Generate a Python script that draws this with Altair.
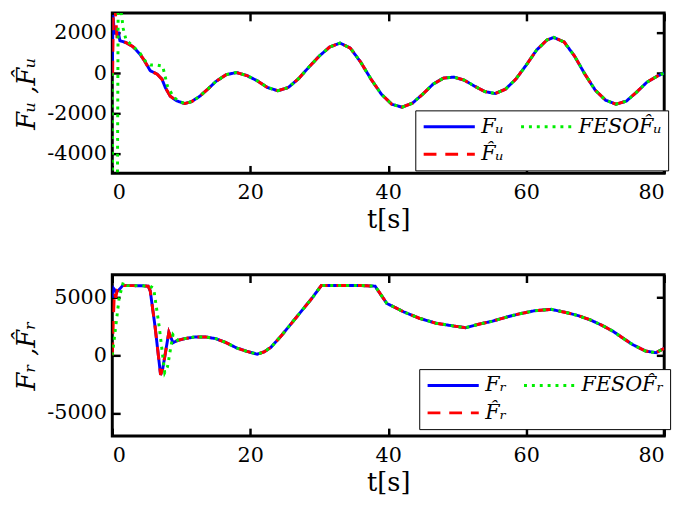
import altair as alt
import pandas as pd

# ---------------- data ----------------
# top panel: F_u
u_names = ["Fᵤ", "F̂ᵤ", "FESOF̂ᵤ"]          # legend order (2 columns, column-major)
u_tail_t = [10.5, 11.5, 12.7, 14, 15, 16.5, 18, 19.5, 21, 22.5, 24, 25.5, 27, 28.5, 30, 31.5,
            33, 34.5, 36, 37.5, 39, 40.5, 42, 43.5, 45, 46.5, 48, 49.5, 51, 52.5, 54, 55.5,
            57, 58.5, 60, 61.5, 63, 64, 65.5, 67, 68.5, 70, 71.5, 73, 74.5, 76, 77.5, 79, 80]
u_tail_v = [-1520, -1420, -1150, -750, -420, -80, 30, -120, -380, -720, -880, -720, -280, 300, 850, 1300,
            1500, 1250, 550, -300, -1050, -1550, -1700, -1500, -1050, -550, -250, -200, -350, -650, -920, -1020,
            -800, -300, 400, 1150, 1650, 1780, 1550, 850, -50, -850, -1350, -1550, -1400, -950, -450, -150, 0]
fu_head_t = [0, 0.1, 0.3, 0.6, 0.9, 1.1, 2, 3, 4, 4.6, 5.5, 6.5, 7.2, 7.7, 8.4, 9.3]
fu_head_v = [0, 2900, 2000, 2000, 2000, 1620, 1520, 1320, 950, 650, 120, -50, -300, -730, -1150, -1380]
fuhat_head_t = [0, 0.05, 0.15, 0.4, 0.7, 1.1, 2, 3, 4, 4.6, 5.5, 6.5, 7.2, 7.7, 8.4, 9.3]
fuhat_head_v = [0, 0, 3300, 3300, 1700, 1620, 1520, 1320, 950, 650, 120, -50, -300, -730, -1150, -1380]
fueso_head_t = [0, 0.05, 0.75, 0.85, 1.2, 1.6, 2.0, 3, 4, 4.8, 5.5, 6.5, 7.3, 8.0, 8.8, 9.5]
fueso_head_v = [0, -5300, -5300, 3300, 3300, 2200, 1650, 1350, 1000, 600, 400, 400, 350, -650, -1150, -1380]

# bottom panel: F_r
r_names = ["Fᵣ", "F̂ᵣ", "FESOF̂ᵣ"]
r_tail_t = [10.5, 12, 13.5, 15, 16.5, 18, 19.5, 21, 22, 23, 24.5, 26, 27.5, 29, 30.3, 32, 34, 36, 38.1,
            39, 39.8, 41, 42.2, 44.5, 46.9, 49.3, 51.2, 53.1, 55, 57.4, 59, 61.2, 63.6, 65.9, 67.5,
            69.3, 71, 72.6, 74, 75.4, 77.3, 78.8, 79.7, 80]
r_tail_v = [1450, 1600, 1600, 1450, 1100, 650, 350, 100, 300, 700, 1700, 2800, 3900, 5000, 6060, 6060, 6060, 6060, 6000,
            5200, 4500, 4150, 3780, 3220, 2790, 2560, 2400, 2700, 2950, 3360, 3600, 3870, 3990, 3700, 3450,
            3070, 2600, 2080, 1500, 940, 370, 230, 510, 600]
fr_head_t = [0, 0.2, 0.6, 1.0, 1.5, 3, 4.5, 5.2, 5.5, 6.2, 7.0, 7.3, 8.2, 8.8, 9.5]
fr_head_v = [5000, 5800, 5500, 5700, 6050, 6050, 6030, 6000, 5600, 2500, -1700, -1200, 2000, 1100, 1300]
frhat_head_t = [0, 0.15, 0.3, 0.5, 0.7, 1.0, 1.5, 3, 4.5, 5.2, 5.5, 6.2, 7.0, 7.3, 8.2, 8.8, 9.5]
frhat_head_v = [0, 3000, 5500, 5000, 5600, 5500, 6050, 6050, 6030, 6000, 5600, 2500, -1700, -1200, 2000, 1100, 1300]
freso_head_t = [0, 0.5, 1.0, 1.6, 2.2, 4, 5.5, 6.0, 6.8, 7.6, 8.0, 8.8, 9.5]
freso_head_v = [0, 2500, 5000, 6350, 6050, 6050, 6000, 5800, 2500, -1500, -1000, 1800, 1300]

# axis ticks
x_ticks = [0, 20, 40, 60, 80]
u_ticks = [-4000, -2000, 0, 2000]
r_ticks = [-5000, 0, 5000]

# ---------------- build tables ----------------
def series(name, ht, hv, tt, tv):
    ts = list(ht) + list(tt)
    vs = list(hv) + list(tv)
    return pd.DataFrame({"series": name, "t": ts, "v": vs, "idx": range(len(ts))})

df_u = pd.concat([
    series(u_names[0], fu_head_t, fu_head_v, u_tail_t, u_tail_v),
    series(u_names[1], fuhat_head_t, fuhat_head_v, u_tail_t, u_tail_v),
    series(u_names[2], fueso_head_t, fueso_head_v, u_tail_t, u_tail_v),
])
df_r = pd.concat([
    series(r_names[0], fr_head_t, fr_head_v, r_tail_t, r_tail_v),
    series(r_names[1], frhat_head_t, frhat_head_v, r_tail_t, r_tail_v),
    series(r_names[2], freso_head_t, freso_head_v, r_tail_t, r_tail_v),
])

FONT = "DejaVu Serif"
COLORS = ["#0000ff", "#ff0000", "#00ee00"]
DASHES = [[1, 0], [13, 9], [3, 5]]


def panel(df, names, ydomain, yticks, ytitle, lx, ly, h):
    xs = alt.Scale(domain=[0, 80], nice=False, zero=False)
    ys = alt.Scale(domain=ydomain, nice=False, zero=False)
    legend = alt.Legend(
        orient="none", legendX=lx, legendY=ly, columns=2, title="",
        symbolType="M-4,0H4", symbolSize=169, symbolStrokeWidth=3, symbolOffset=18,
        labelFont=FONT, labelFontSize=21, labelFontStyle="italic", labelColor="black",
        strokeColor="black", fillColor="white", padding=6, columnPadding=11, rowPadding=6,
        labelOffset=22, labelLimit=300,
    )
    xaxis = alt.Axis(values=x_ticks, title="t[s]", labelExpr="datum.value + ''", offset=-8, tickSize=8,
                     labelPadding=9, titlePadding=4, labelFont=FONT, titleFont=FONT)
    yaxis = alt.Axis(values=yticks, title=ytitle, labelExpr="datum.value + ''", offset=-8, tickSize=8,
                     labelPadding=6, titlePadding=8, titleFontStyle="italic", labelFont=FONT, titleFont=FONT)
    layers = []
    for k in [0, 1, 2]:  # blue, red, green drawing order
        enc = dict(
            x=alt.X("t:Q", scale=xs, axis=xaxis),
            y=alt.Y("v:Q", scale=ys, axis=yaxis),
            order="idx:Q",
            color=alt.Color("series:N", scale=alt.Scale(domain=names, range=COLORS), legend=legend),
            strokeDash=alt.StrokeDash("series:N", scale=alt.Scale(domain=names, range=DASHES), legend=legend),
        )
        layer = alt.Chart(df).transform_filter(alt.datum.series == names[k]).mark_line(
            strokeWidth=3, clip=True, strokeCap="butt"
        ).encode(**enc)
        layers.append(layer)
    lines = alt.layer(*layers)
    ticks2 = alt.Chart(df).mark_point(opacity=0, clip=True).encode(
        x=alt.X("t:Q", scale=xs, axis=alt.Axis(values=x_ticks, orient="top", labels=False, title="",
                                               offset=-8, tickSize=8)),
        y=alt.Y("v:Q", scale=ys, axis=alt.Axis(values=yticks, orient="right", labels=False, title="",
                                               offset=-8, tickSize=8)),
    )
    return alt.layer(lines, ticks2).resolve_axis(x="independent", y="independent").properties(
        width=561, height=h
    )


top = panel(df_u, u_names, [-5000, 3000], u_ticks, "Fᵤ ,F̂ᵤ", 308, 99, 163)
bottom = panel(df_r, r_names, [-7000, 7000], r_ticks, "Fᵣ ,F̂ᵣ", 312, 96, 164)

chart = alt.vconcat(top, bottom, spacing=103, bounds="flush").resolve_scale(
    color="independent", strokeDash="independent"
).resolve_legend(
    color="independent", strokeDash="independent"
).properties(
    padding={"left": 3, "top": -2, "right": 5, "bottom": 0}
).configure(
    font=FONT
).configure_view(
    stroke="black", strokeWidth=3
).configure_axis(
    domain=False, grid=False, tickColor="black", tickWidth=2.5,
    labelFontSize=21, labelColor="black",
    titleFontSize=26, titleColor="black", titleFontWeight="normal",
)

chart.save("out.html", embed_options={"renderer": "svg", "actions": False})
